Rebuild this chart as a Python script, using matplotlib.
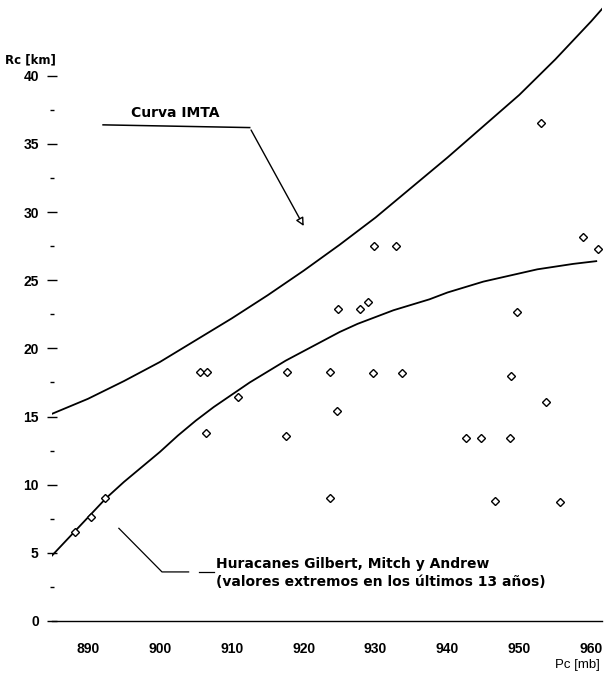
"""
Rc vs Pc chart: Curva IMTA, ajuste de huracanes y puntos observados.
"""
import matplotlib
matplotlib.use("Agg")
import matplotlib.pyplot as plt
from matplotlib.ticker import FixedLocator

FONT = ['Liberation Sans Narrow', 'Liberation Sans', 'DejaVu Sans']
plt.rcParams['font.family'] = FONT
plt.rcParams['font.weight'] = 'bold'

# ---- data ----
# observed hurricanes (Pc [mb], Rc [km])
obs_pc = [888.2, 890.4, 892.4, 905.6, 906.6, 906.4, 910.9, 917.7, 917.6, 923.7,
          924.7, 924.8, 927.9, 929.0, 929.7, 929.8, 932.9, 933.7, 923.7, 942.6,
          944.7, 948.7, 946.6, 955.7, 948.9, 949.7, 953.7, 953.0, 958.9, 961.0]
obs_rc = [6.5, 7.6, 9.0, 18.3, 18.3, 13.8, 16.4, 18.3, 13.6, 18.3,
          15.4, 22.9, 22.9, 23.4, 18.2, 27.5, 27.5, 18.2, 9.0, 13.4,
          13.4, 13.4, 8.8, 8.7, 18.0, 22.7, 16.1, 36.5, 28.2, 27.3]

# upper curve (Curva IMTA)
imta_pc = [885, 890, 895, 900, 905, 910, 915, 920, 925, 930, 935, 940,
           945, 950, 955, 960, 962]
imta_rc = [15.2, 16.3, 17.6, 19.0, 20.6, 22.2, 23.9, 25.7, 27.6, 29.6, 31.8,
           34.0, 36.3, 38.6, 41.2, 44.0, 45.2]

# lower curve (ajuste)
fit_pc = [885, 887.5, 890, 892.5, 895, 897.5, 900, 902.5, 905, 907.5, 910,
          912.5, 915, 917.5, 920, 922.5, 925, 927.5, 930, 932.5, 935, 937.5,
          940, 942.5, 945, 947.5, 950, 952.5, 955, 957.5, 960.7]
fit_rc = [4.8, 6.2, 7.6, 9.0, 10.2, 11.3, 12.4, 13.6, 14.7, 15.7, 16.6,
          17.5, 18.3, 19.1, 19.8, 20.5, 21.2, 21.8, 22.3, 22.8, 23.2, 23.6,
          24.1, 24.5, 24.9, 25.2, 25.5, 25.8, 26.0, 26.2, 26.4]

x_ticks = [890, 900, 910, 920, 930, 940, 950, 960]
y_ticks = [0, 5, 10, 15, 20, 25, 30, 35, 40]
y_minor = [2.5, 7.5, 12.5, 17.5, 22.5, 27.5, 32.5, 37.5]

fig = plt.figure(figsize=(6.06, 6.87), dpi=100)
ax = fig.add_axes([52 / 606, 66 / 687, 550 / 606, 621 / 687])

ax.plot(imta_pc, imta_rc, color='black', lw=1.3)
ax.plot(fit_pc, fit_rc, color='black', lw=1.3)
ax.plot(obs_pc, obs_rc, linestyle='none', marker='D', ms=4.2,
        mfc='white', mec='black', mew=1.0, clip_on=False, zorder=3)

ax.set_xlim(885, 961.5)
ax.set_ylim(0, 45.56)

ax.set_xticks(x_ticks)
ax.set_xticklabels([str(v) for v in x_ticks])
ax.set_yticks(y_ticks)
ax.set_yticklabels([str(v) for v in y_ticks])
ax.yaxis.set_minor_locator(FixedLocator(y_minor))
ax.tick_params(axis='x', length=0, pad=15, labelsize=10)
ax.tick_params(axis='y', which='major', direction='inout', length=7,
               width=1.0, pad=6, labelsize=10)
ax.tick_params(axis='y', which='minor', direction='inout', length=3.5,
               width=1.0)

for side in ['top', 'right', 'left']:
    ax.spines[side].set_visible(False)
ax.spines['bottom'].set_linewidth(1.0)

# annotations
ANN = ['DejaVu Sans']
ax.annotate('', xy=(920.2, 28.8), xytext=(912.5, 36.2),
            arrowprops=dict(arrowstyle='-|>', color='black', lw=1.0,
                            fc='white', mutation_scale=12))
ax.plot([892.1, 912.5], [36.4, 36.2], color='black', lw=1.1)
ax.text(902.2, 37.3, 'Curva IMTA', ha='center', va='center', fontsize=10,
        family=ANN)

ax.plot([894.3, 900.3, 904.0], [6.8, 3.6, 3.6], color='black', lw=0.9)
ax.plot([905.5, 907.6], [3.6, 3.6], color='black', lw=0.9)
ax.text(907.8, 4.2, 'Huracanes Gilbert, Mitch y Andrew', ha='left',
        va='center', fontsize=10, family=ANN)
ax.text(907.8, 2.85, '(valores extremos en los últimos 13 años)', ha='left',
        va='center', fontsize=10, family=ANN)

fig.text(5 / 606, 1 - 60 / 687, 'Rc [km]', ha='left', va='center', fontsize=8.5,
         family=ANN)
fig.text(600 / 606, 1 - 665 / 687, 'Pc [mb]', ha='right', va='center',
         fontsize=9.5, fontweight='normal')

fig.savefig('out.png', dpi=100)
